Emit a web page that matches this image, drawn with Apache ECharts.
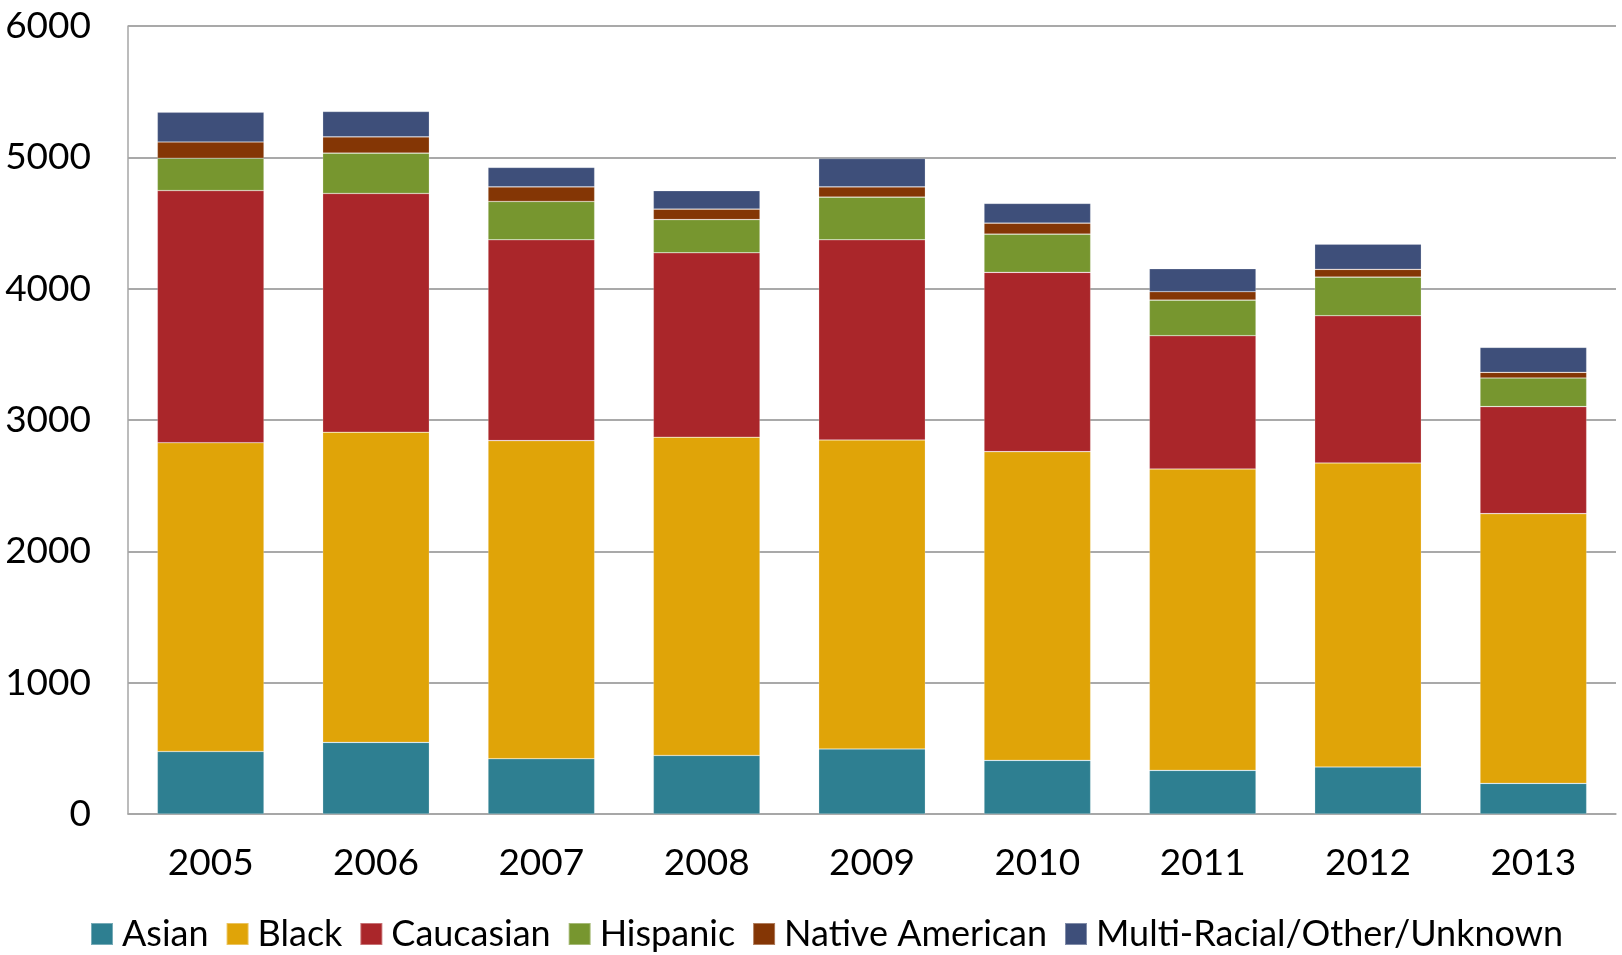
<!DOCTYPE html>
<html>
<head>
<meta charset="utf-8">
<script src="https://cdn.jsdelivr.net/npm/echarts@6/dist/echarts.min.js"></script>
<style>
html,body{margin:0;padding:0;background:#fff;}
#chart{width:1622px;height:955px;}
</style>
</head>
<body>
<div id="chart"></div>
<script>
const categories = ['2005','2006','2007','2008','2009','2010','2011','2012','2013'];
const asian      = [476, 545, 421, 446, 495, 408, 332, 358, 233];
const black      = [2351, 2362, 2422, 2423, 2353, 2351, 2295, 2315, 2054];
const caucasian  = [1920, 1818, 1529, 1404, 1524, 1365, 1015, 1121, 815];
const hispanic   = [246, 307, 292, 253, 325, 291, 271, 294, 218];
const nativeAm   = [124, 124, 111, 80, 78, 84, 64, 59, 43];
const multi      = [226, 193, 148, 140, 216, 150, 175, 192, 190];
const seriesNames = ['Asian','Black','Caucasian','Hispanic','Native American','Multi-Racial/Other/Unknown'];
const yTicks = [0, 1000, 2000, 3000, 4000, 5000, 6000];

const colors = ['#2E7F91','#E0A408','#AA262A','#77962F','#843605','#3E4F7A'];
const dataSets = [asian, black, caucasian, hispanic, nativeAm, multi];
const FONT = 'Lato';

const chart = echarts.init(document.getElementById('chart'), null, {renderer:'canvas'});
chart.setOption({
  animation: false,
  color: colors,
  textStyle: {fontFamily: FONT},
  grid: {left: 128, right: 6, top: 26, bottom: 141, containLabel: false},
  legend: {
    data: seriesNames,
    top: 911,
    left: 85,
    itemWidth: 22,
    itemHeight: 22,
    itemGap: 17,
    icon: 'rect',
    textStyle: {fontFamily: FONT, fontSize: 36, color: '#000', padding: [0,0,0,4]}
  },
  xAxis: {
    type: 'category',
    data: categories,
    axisLine: {show: true, lineStyle: {color: '#a6a6a6', width: 1.5}},
    axisTick: {show: false},
    axisLabel: {fontFamily: FONT, fontSize: 37, color: '#000', margin: 31}
  },
  yAxis: {
    type: 'value',
    min: yTicks[0],
    max: yTicks[yTicks.length-1],
    interval: 1000,
    axisLine: {show: true, lineStyle: {color: '#a6a6a6', width: 1.5}},
    axisTick: {show: false},
    splitLine: {show: true, lineStyle: {color: '#8c8c8c', width: 1.5}},
    axisLabel: {fontFamily: FONT, fontSize: 37, color: '#000', margin: 37, formatter: v => String(v)}
  },
  series: dataSets.map((d, i) => ({
    name: seriesNames[i],
    type: 'bar',
    stack: 'total',
    data: d,
    barCategoryGap: '35.5%',
    itemStyle: {color: colors[i], borderColor: 'rgba(255,255,255,0.35)', borderWidth: 0.6}
  }))
});
</script>
</body>
</html>
